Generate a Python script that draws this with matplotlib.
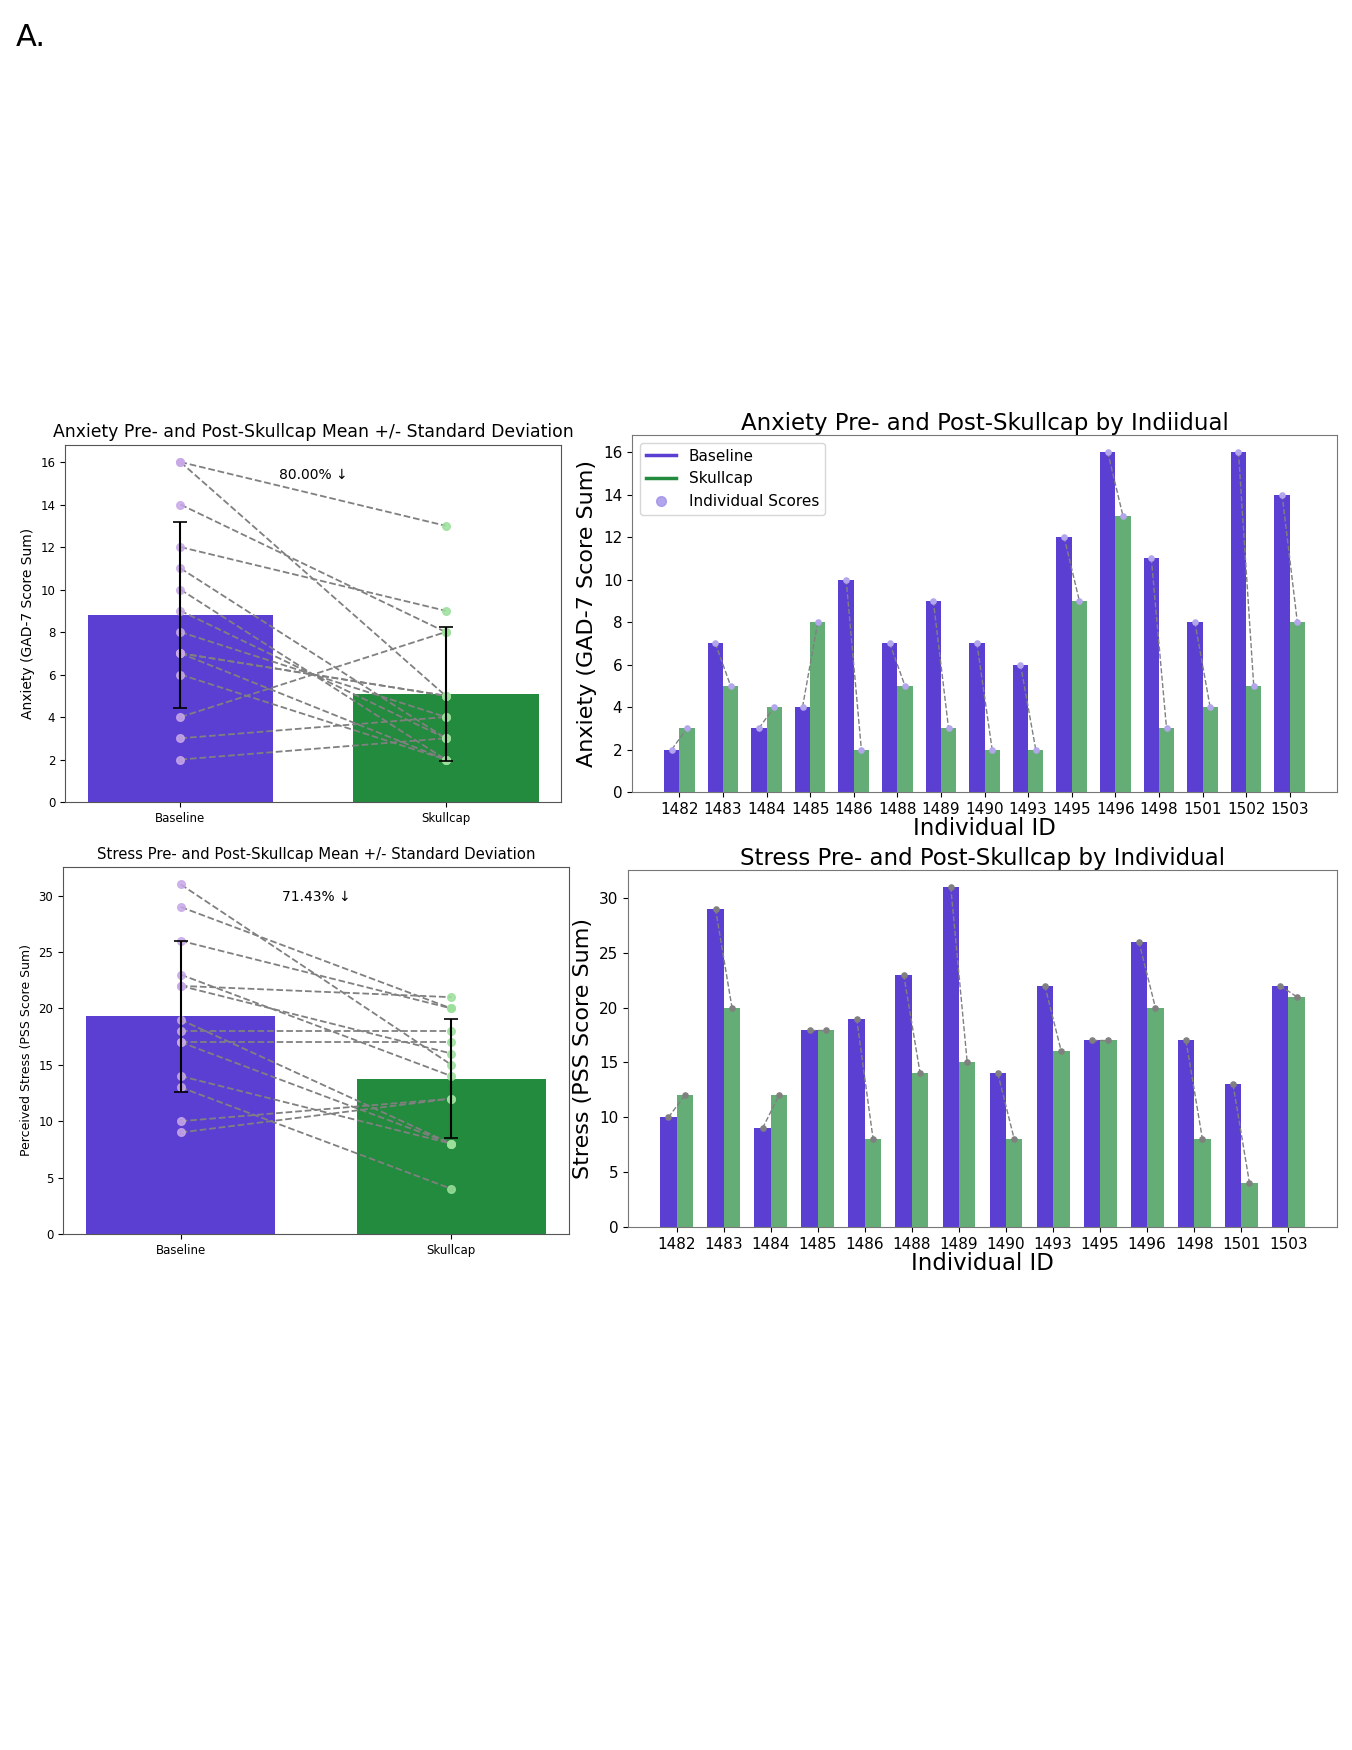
import numpy as np
import matplotlib
matplotlib.use("Agg")
import matplotlib.pyplot as plt
from matplotlib.lines import Line2D

# participant ids and scores
anx_ids = ["1482", "1483", "1484", "1485", "1486", "1488", "1489", "1490",
           "1493", "1495", "1496", "1498", "1501", "1502", "1503"]
anx_base = [2, 7, 3, 4, 10, 7, 9, 7, 6, 12, 16, 11, 8, 16, 14]
anx_skull = [3, 5, 4, 8, 2, 5, 3, 2, 2, 9, 13, 3, 4, 5, 8]

str_ids = ["1482", "1483", "1484", "1485", "1486", "1488", "1489", "1490",
           "1493", "1495", "1496", "1498", "1501", "1503"]
str_base = [10, 29, 9, 18, 19, 23, 31, 14, 22, 17, 26, 17, 13, 22]
str_skull = [12, 20, 12, 18, 8, 14, 15, 8, 16, 17, 20, 8, 4, 21]

groups = ["Baseline", "Skullcap"]

BLUE = "#5B3FD3"
GREEN = "#228B3E"


def pct_decreased(pre, post):
    pre = np.array(pre)
    post = np.array(post)
    return 100.0 * np.sum(post < pre) / len(pre)


def mean_panel(ax, pre, post, title, ylabel, title_fs, label_fs, tick_fs, yt):
    pre = np.array(pre)
    post = np.array(post)
    means = [pre.mean(), post.mean()]
    sds = [pre.std(ddof=1), post.std(ddof=1)]
    ax.bar([0, 1], means, width=0.7, color=[BLUE, GREEN], zorder=1)
    for a, b in zip(pre, post):
        ax.plot([0, 1], [a, b], ls="--", color="gray", lw=1.3, zorder=2)
    ax.scatter(np.zeros(len(pre)), pre, color="#C8A8E8", s=30, zorder=3, alpha=0.85)
    ax.scatter(np.ones(len(post)), post, color="#9BE09B", s=30, zorder=3, alpha=0.85)
    ax.errorbar([0, 1], means, yerr=sds, fmt="none", ecolor="black", capsize=5,
                elinewidth=1.5, capthick=1.2, zorder=4)
    pct = pct_decreased(pre, post)
    ax.text(0.5, yt, f"{pct:.2f}% \u2193", ha="center", va="center", fontsize=10)
    ax.set_xticks([0, 1])
    ax.set_xticklabels(groups, fontsize=tick_fs)
    ax.tick_params(axis="y", labelsize=tick_fs)
    ax.set_ylabel(ylabel, fontsize=label_fs)
    ax.set_title(title, fontsize=title_fs)
    for s in ax.spines.values():
        s.set_color("#555555")


def indiv_panel(ax, ids, pre, post, title, ylabel, dot_color, legend):
    x = np.arange(len(ids))
    w = 0.35
    ax.bar(x - w / 2, pre, width=w, color=BLUE, zorder=1)
    ax.bar(x + w / 2, post, width=w, color=GREEN, alpha=0.7, zorder=1)
    for i in range(len(ids)):
        ax.plot([x[i] - w / 2, x[i] + w / 2], [pre[i], post[i]], ls="--",
                color="gray", lw=1.0, zorder=2)
    ax.scatter(x - w / 2, pre, color=dot_color, s=14, zorder=3)
    ax.scatter(x + w / 2, post, color=dot_color, s=14, zorder=3)
    ax.set_xticks(x)
    ax.set_xticklabels(ids, fontsize=11)
    ax.tick_params(axis="y", labelsize=11)
    ax.set_xlabel("Individual ID", fontsize=16.5, labelpad=0)
    ax.set_ylabel(ylabel, fontsize=16)
    ax.set_title(title, fontsize=16.5, pad=2)
    for s in ax.spines.values():
        s.set_color("#777777")
    if legend:
        handles = [
            Line2D([0], [0], color=BLUE, lw=2.5),
            Line2D([0], [0], color=GREEN, lw=2.5),
            Line2D([0], [0], ls="none", marker="o", color="#9F8FE8", alpha=0.8, markersize=7),
        ]
        ax.legend(handles, ["Baseline", "Skullcap", "Individual Scores"],
                  loc="upper left", fontsize=11)


fig = plt.figure(figsize=(13.52, 17.5), dpi=100)
fig.text(0.012, 0.987, "A.", fontsize=22, va="top", ha="left")

ax1 = fig.add_axes([0.0481, 0.5417, 0.3669, 0.2040])
mean_panel(ax1, anx_base, anx_skull,
           "Anxiety Pre- and Post-Skullcap Mean +/- Standard Deviation",
           "Anxiety (GAD-7 Score Sum)", 12.4, 10, 8.5, 15.4)

ax2 = fig.add_axes([0.0466, 0.2949, 0.3743, 0.2097])
mean_panel(ax2, str_base, str_skull,
           "Stress Pre- and Post-Skullcap Mean +/- Standard Deviation",
           "Perceived Stress (PSS Score Sum)", 10.7, 9, 8.5, 29.9)

ax3 = fig.add_axes([0.4675, 0.5474, 0.5214, 0.2040])
indiv_panel(ax3, anx_ids, anx_base, anx_skull,
            "Anxiety Pre- and Post-Skullcap by Indiidual",
            "Anxiety (GAD-7 Score Sum)", "#B3A6EC", True)

ax4 = fig.add_axes([0.4645, 0.2989, 0.5244, 0.2040])
indiv_panel(ax4, str_ids, str_base, str_skull,
            "Stress Pre- and Post-Skullcap by Individual",
            "Stress (PSS Score Sum)", "gray", False)

fig.savefig("out.png", dpi=100)
